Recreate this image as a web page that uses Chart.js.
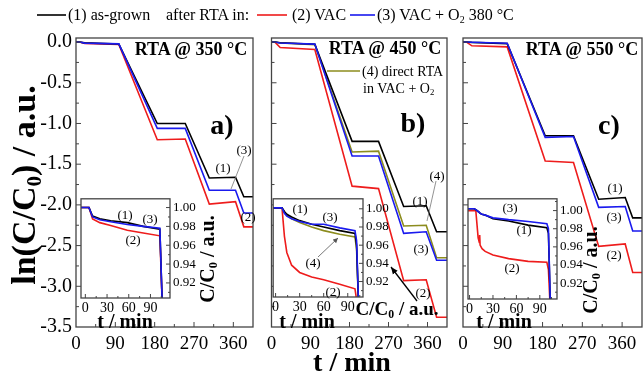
<!DOCTYPE html>
<html><head><meta charset="utf-8">
<script src="https://cdn.jsdelivr.net/npm/chart.js@4.4.1/dist/chart.umd.min.js"></script>
<style>
html,body{margin:0;padding:0;background:#fff;}
#wrap{position:relative;width:643px;height:374px;overflow:hidden;font-family:"Liberation Serif","Times New Roman",serif;}
canvas{position:absolute;}
.t{position:absolute;white-space:nowrap;line-height:1;color:#000;z-index:5;}
sub{font-size:0.62em;vertical-align:baseline;position:relative;top:0.28em;}
</style></head><body>
<div id="wrap">
<canvas id="ca" width="258" height="374" style="left:0;top:0;z-index:1"></canvas>
<canvas id="cb" width="194" height="374" style="left:258px;top:0;z-index:1"></canvas>
<canvas id="cc" width="191" height="374" style="left:452px;top:0;z-index:1"></canvas>
<canvas id="ia" width="130" height="135" style="left:78px;top:188px;z-index:2"></canvas>
<canvas id="ib" width="130" height="135" style="left:270px;top:188px;z-index:2"></canvas>
<canvas id="ic" width="130" height="135" style="left:464px;top:188px;z-index:2"></canvas>
<svg width="643" height="374" style="position:absolute;left:0;top:0;z-index:4">
<defs>
<marker id="ah" markerWidth="8" markerHeight="8" refX="7" refY="4" orient="auto" markerUnits="userSpaceOnUse"><path d="M0,1 L7,4 L0,7 z" fill="#000"/></marker>
<marker id="ah2" markerWidth="6" markerHeight="6" refX="5" refY="3" orient="auto" markerUnits="userSpaceOnUse"><path d="M0,0.5 L5,3 L0,5.5 z" fill="#555"/></marker>
</defs>
<line x1="37" y1="15" x2="66" y2="15" stroke="#000" stroke-width="1.6"/>
<line x1="257" y1="15" x2="287" y2="15" stroke="#ee1c1c" stroke-width="1.6"/>
<line x1="350" y1="15" x2="375" y2="15" stroke="#1a1aee" stroke-width="1.6"/>
<line x1="327" y1="71" x2="360" y2="71" stroke="#8c8c1e" stroke-width="1.6"/>
<line x1="244" y1="156" x2="231" y2="189" stroke="#777" stroke-width="0.8"/>
<line x1="436" y1="181" x2="427" y2="221" stroke="#777" stroke-width="0.8"/>
<line x1="318" y1="257" x2="338" y2="238" stroke="#555" stroke-width="0.8" marker-end="url(#ah2)"/>
<line x1="417" y1="301" x2="391" y2="267" stroke="#000" stroke-width="1.3" marker-end="url(#ah)"/>
</svg>
</div>
<script>
// ---------- data ----------
const mainXTicks = [0, 90, 180, 270, 360];
const mainXMinor = [45, 135, 225, 315];
const mainYTicks = [0, -0.5, -1, -1.5, -2, -2.5, -3, -3.5];
const mainYMinor = [-0.25, -0.75, -1.25, -1.75, -2.25, -2.75, -3.25];
const insetXTicks = [0, 30, 60, 90];
const insetXMinor = [15, 45, 75, 105];
const insetYTicks = [1.00, 0.98, 0.96, 0.94, 0.92];
const insetYMinor = [1.01, 0.99, 0.97, 0.95, 0.93, 0.91];

// panel a) RTA @ 350 °C  (ln(C/C0) vs t)
const tA = [0, 8, 20, 98, 186, 250, 305, 365, 384, 405];
const a1 = [0, 0, -0.010, -0.023, -1.00, -1.00, -1.67, -1.66, -1.90, -1.90];
const a2 = [0, 0, -0.016, -0.030, -1.20, -1.19, -1.99, -1.96, -2.27, -2.27];
const a3 = [0, 0, -0.013, -0.022, -1.06, -1.06, -1.82, -1.82, -2.10, -2.10];
// panel b) RTA @ 450 °C
const tB = [0, 8, 20, 100, 186, 247, 305, 357, 381, 405];
const b1 = [0, 0, -0.009, -0.027, -1.22, -1.22, -2.02, -2.01, -2.33, -2.33];
const b2 = [0, 0, -0.066, -0.092, -1.77, -1.80, -2.93, -2.92, -3.38, -3.38];
const b3 = [0, 0, -0.011, -0.025, -1.40, -1.40, -2.35, -2.33, -2.68, -2.68];
const b4 = [0, 0, -0.011, -0.031, -1.35, -1.34, -2.26, -2.25, -2.65, -2.65];
// panel c) RTA @ 550 °C
const tC = [0, 8, 20, 100, 186, 250, 307, 367, 384, 405];
const c1 = [0, 0, -0.004, -0.019, -1.15, -1.15, -1.93, -1.91, -2.16, -2.16];
const c2 = [0, 0, -0.046, -0.059, -1.46, -1.48, -2.51, -2.48, -2.83, -2.83];
const c3 = [0, 0, -0.003, -0.014, -1.17, -1.16, -2.03, -2.02, -2.32, -2.32];

// insets (C/C0 vs t, dark stage)
const tIA = [-6, 5, 10, 20, 35, 58, 80, 103, 107];
const ia1 = [1.000, 1.000, 0.991, 0.988, 0.986, 0.984, 0.980, 0.977, 0.880];
const ia2 = [1.000, 1.000, 0.988, 0.984, 0.981, 0.976, 0.973, 0.970, 0.880];
const ia3 = [1.000, 1.000, 0.990, 0.987, 0.985, 0.982, 0.980, 0.978, 0.880];

const tIB = [-3, 8, 11, 14, 20, 30, 45, 60, 80, 99, 101, 104];
const ib1 = [1.001, 1.001, 0.997, 0.994, 0.991, 0.987, 0.983, 0.980, 0.976, 0.973, 0.960, 0.880];
const ib2 = [1.001, 1.001, 0.970, 0.952, 0.938, 0.930, 0.925, 0.922, 0.917, 0.912, 0.900, 0.880];
const ib3 = [1.001, 1.001, 0.995, 0.992, 0.989, 0.986, 0.983, 0.983, 0.979, 0.976, 0.965, 0.880];
const ib4 = [1.001, 1.001, 0.996, 0.993, 0.989, 0.985, 0.980, 0.976, 0.972, 0.969, 0.955, 0.880];

const tIC = [-2, 6, 8, 11, 12.5, 13, 13.5, 16, 20, 30, 50, 75, 99, 101, 104];
const ic1 = [1.002, 1.002, 1.001, 0.999, 0.998, 0.998, 0.997, 0.996, 0.995, 0.991, 0.9885, 0.984, 0.981, 0.975, 0.880];
const ic2 = [1.000, 1.000, 1.000, 0.970, 0.965, 0.973, 0.962, 0.958, 0.955, 0.951, 0.947, 0.944, 0.943, 0.935, 0.880];
const ic3 = [1.002, 1.002, 1.001, 0.999, 0.998, 0.998, 0.997, 0.996, 0.995, 0.992, 0.990, 0.988, 0.9855, 0.980, 0.880];

// ---------- styling ----------
const SERIF = '"Liberation Serif","Times New Roman",serif';
const BLACK = '#000000', RED = '#ee1c1c', BLUE = '#1a1aee', OLIVE = '#8c8c1e';
const FRAME = '#444';

const pts = (t, v) => t.map((x, i) => ({x: x, y: v[i]}));

const frameTicks = {
  id: 'frameTicks',
  beforeDraw(chart, args, o) {
    if (!o.fill) return;
    const a = chart.chartArea, ctx = chart.ctx;
    ctx.save(); ctx.fillStyle = '#fff';
    ctx.fillRect(a.left, a.top, a.right - a.left, a.bottom - a.top);
    ctx.restore();
  },
  afterDraw(chart, args, o) {
    const a = chart.chartArea, ctx = chart.ctx;
    const xs = chart.scales.x, ys = chart.scales.y;
    ctx.save();
    ctx.strokeStyle = FRAME; ctx.lineWidth = 1.3;
    ctx.strokeRect(a.left, a.top, a.right - a.left, a.bottom - a.top);
    ctx.lineWidth = 1;
    const drawX = (vals, len) => vals.forEach(v => {
      const p = xs.getPixelForValue(v);
      if (p < a.left + 1 || p > a.right - 1) return;
      ctx.beginPath(); ctx.moveTo(p, a.bottom); ctx.lineTo(p, a.bottom - len); ctx.stroke();
    });
    const edge = o.right ? a.right : a.left, dir = o.right ? -1 : 1;
    const drawY = (vals, len) => vals.forEach(v => {
      const p = ys.getPixelForValue(v);
      if (p < a.top + 1 || p > a.bottom - 1) return;
      ctx.beginPath(); ctx.moveTo(edge, p); ctx.lineTo(edge + dir * len, p); ctx.stroke();
    });
    drawX(o.xMajor, o.big ? 5 : 4); drawX(o.xMinor, o.big ? 3 : 2);
    drawY(o.yMajor, o.big ? 5 : 4); drawY(o.yMinor, o.big ? 3 : 2);
    ctx.restore();
  }
};

function ds(t, v, c) {
  return {data: pts(t, v), borderColor: c, borderWidth: 1.6, pointRadius: 0, tension: 0, fill: false};
}

const noGrid = {display: false, drawTicks: false};

function mainChart(id, padL, padR, yW, showY, datasets) {
  return new Chart(document.getElementById(id), {
    type: 'line',
    data: {datasets: datasets},
    options: {
      responsive: false, animation: false, events: [],
      layout: {padding: {left: padL, right: padR, top: 38, bottom: 0}},
      plugins: {legend: {display: false}, tooltip: {enabled: false},
        frameTicks: {big: true, xMajor: mainXTicks, xMinor: mainXMinor, yMajor: mainYTicks, yMinor: mainYMinor}},
      scales: {
        x: {type: 'linear', min: 0, max: 405,
          afterBuildTicks: s => { s.ticks = mainXTicks.map(v => ({value: v})); },
          afterFit: s => { s.height = 47; },
          grid: noGrid, border: {display: false},
          ticks: {autoSkip: false, maxRotation: 0, padding: 6, color: '#000', font: {family: SERIF, size: 19}}},
        y: {type: 'linear', min: -3.5, max: 0.05,
          afterBuildTicks: s => { s.ticks = mainYTicks.map(v => ({value: v})); },
          afterFit: s => { s.width = yW; },
          grid: noGrid, border: {display: false},
          ticks: {display: showY, padding: 4, color: '#000', font: {family: SERIF, size: 20},
            callback: v => Number(v).toFixed(1)}}
      }
    },
    plugins: [frameTicks]
  });
}

function insetChart(id, padL, padTop, yW, xH, xmin, xmax, ymin, ymax, datasets) {
  return new Chart(document.getElementById(id), {
    type: 'line',
    data: {datasets: datasets},
    options: {
      responsive: false, animation: false, events: [],
      layout: {padding: {left: padL, right: 0, top: padTop, bottom: 0}},
      plugins: {legend: {display: false}, tooltip: {enabled: false},
        frameTicks: {fill: true, right: true, xMajor: insetXTicks, xMinor: insetXMinor, yMajor: insetYTicks, yMinor: insetYMinor}},
      scales: {
        x: {type: 'linear', min: xmin, max: xmax,
          afterBuildTicks: s => { s.ticks = insetXTicks.map(v => ({value: v})); },
          afterFit: s => { s.height = xH; },
          grid: noGrid, border: {display: false},
          ticks: {autoSkip: false, maxRotation: 0, padding: 2, color: '#000', font: {family: SERIF, size: 14}}},
        y: {type: 'linear', position: 'right', min: ymin, max: ymax,
          afterBuildTicks: s => { s.ticks = insetYTicks.map(v => ({value: v})); },
          afterFit: s => { s.width = yW; },
          grid: noGrid, border: {display: false},
          ticks: {padding: 3, color: '#000', font: {family: SERIF, size: 13},
            callback: v => Number(v).toFixed(2)}}
      }
    },
    plugins: [frameTicks]
  });
}

mainChart('ca', 0, 5, 76, true, [ds(tA, a3, BLUE), ds(tA, a1, BLACK), ds(tA, a2, RED)]);
mainChart('cb', 0, 5, 13.5, false, [ds(tB, b3, BLUE), ds(tB, b1, BLACK), ds(tB, b4, OLIVE), ds(tB, b2, RED)]);
mainChart('cc', 0, 1, 11, false, [ds(tC, c3, BLUE), ds(tC, c1, BLACK), ds(tC, c2, RED)]);

insetChart('ia', 3, 8, 38, 25, -6, 117, 0.904, 1.0093, [ds(tIA, ia3, BLUE), ds(tIA, ia1, BLACK), ds(tIA, ia2, RED)]);
insetChart('ib', 3, 5, 37, 26, -3, 109, 0.903, 1.011, [ds(tIB, ib3, BLUE), ds(tIB, ib1, BLACK), ds(tIB, ib4, OLIVE), ds(tIB, ib2, RED)]);
insetChart('ic', 3, 6, 37, 24, -2, 112, 0.9025, 1.013, [ds(tIC, ic3, BLUE), ds(tIC, ic1, BLACK), ds(tIC, ic2, RED)]);

// ---------- text ----------
const wrap = document.getElementById('wrap');
function txt(html, x, y, size, bold, rot, left) {
  const d = document.createElement('div');
  d.className = 't'; d.innerHTML = html;
  d.style.fontSize = size + 'px';
  if (bold) d.style.fontWeight = 'bold';
  d.style.left = x + 'px'; d.style.top = y + 'px';
  let tr = left ? 'translate(0,-50%)' : 'translate(-50%,-50%)';
  if (rot) tr += ' rotate(' + rot + 'deg)';
  d.style.transform = tr;
  wrap.appendChild(d);
}
// legend
txt('(1) as-grown', 68, 15, 16, false, 0, true);
txt('after RTA in:', 166, 15, 16, false, 0, true);
txt('(2) VAC', 292, 15, 16, false, 0, true);
txt('(3) VAC + O<sub>2</sub> 380 °C', 377, 15, 16, false, 0, true);
// axis titles
txt('ln(C/C<sub>0</sub>) / a.u.', 24, 185, 34, true, -90);
txt('t / min', 352, 362, 28, true);
txt('t / min', 125, 321, 20, true);
txt('t / min', 307, 321, 20, true);
txt('t / min', 504, 321, 20, true);
txt('C/C<sub>0</sub> / a.u.', 207, 259, 20, true, -90);
txt('C/C<sub>0</sub> / a.u.', 590, 270, 20, true, -90);
txt('C/C<sub>0</sub> / a.u.', 397, 308, 19, true);
// panel titles
txt('RTA @ 350 °C', 191, 49, 18, true);
txt('RTA @ 450 °C', 385, 48, 18, true);
txt('RTA @ 550 °C', 582, 49, 18, true);
txt('a)', 222, 125, 28, true);
txt('b)', 413, 123, 28, true);
txt('c)', 609, 125, 28, true);
txt('(4) direct RTA', 362, 72, 14, false, 0, true);
txt('in VAC + O<sub>2</sub>', 363, 89, 14, false, 0, true);
// curve labels
[['(1)',223,167],['(3)',244,149],['(2)',248,216],
 ['(1)',125,214],['(3)',150,218],['(2)',133,239],
 ['(1)',420,200],['(4)',437,175],['(3)',421,248],['(2)',423,292],
 ['(1)',300,208],['(3)',330,216],['(4)',313,262],['(2)',333,291],
 ['(1)',615,187],['(3)',614,216],['(2)',614,254],
 ['(3)',510,207],['(1)',524,229],['(2)',512,267]].forEach(l => txt(l[0], l[1], l[2], 13, false));
</script>
</body></html>
